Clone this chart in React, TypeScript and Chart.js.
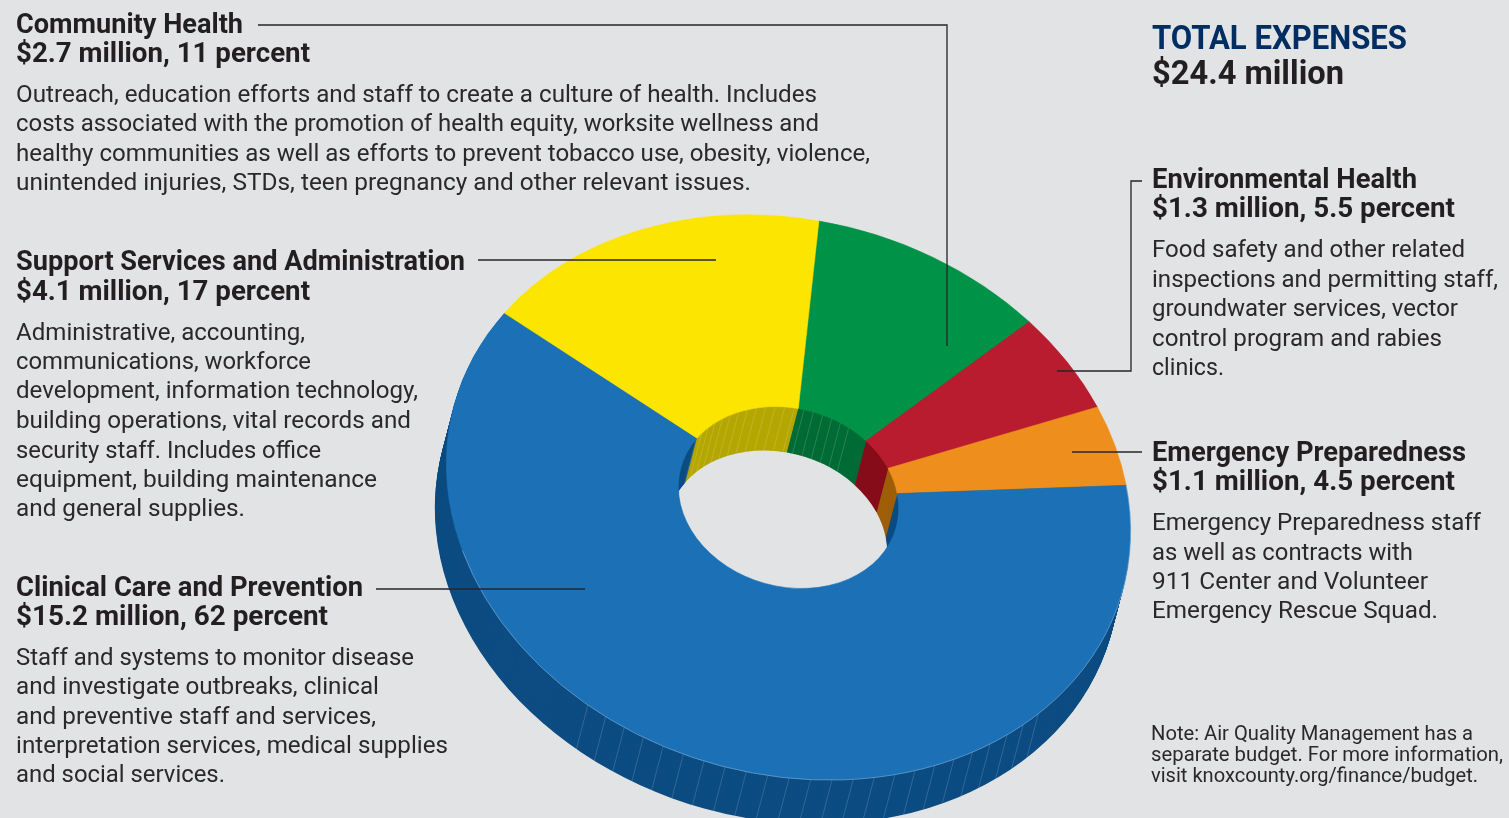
import React, { useEffect, useRef } from "react";
import { Chart, registerables } from "chart.js";

Chart.register(...registerables);

// ---------- data ----------
const categories = ["Community Health", "Environmental Health", "Emergency Preparedness", "Clinical Care and Prevention", "Support Services and Administration"];
const percentValues = [11, 5.5, 4.5, 62, 17];

const communityHead = ["Community Health", "$2.7 million, 11 percent"];
const communityBody = [
  "Outreach, education efforts and staff to create a culture of health. Includes",
  "costs associated with the promotion of health equity, worksite wellness and",
  "healthy communities as well as efforts to prevent tobacco use, obesity, violence,",
  "unintended injuries, STDs, teen pregnancy and other relevant issues.",
];
const supportHead = ["Support Services and Administration", "$4.1 million, 17 percent"];
const supportBody = [
  "Administrative, accounting,",
  "communications, workforce",
  "development, information technology,",
  "building operations, vital records and",
  "security staff. Includes office",
  "equipment, building maintenance",
  "and general supplies.",
];
const clinicalHead = ["Clinical Care and Prevention", "$15.2 million, 62 percent"];
const clinicalBody = [
  "Staff and systems to monitor disease",
  "and investigate outbreaks, clinical",
  "and preventive staff and services,",
  "interpretation services, medical supplies",
  "and social services.",
];
const totalTitle = "TOTAL EXPENSES";
const totalValue = "$24.4 million";
const envHead = ["Environmental Health", "$1.3 million, 5.5 percent"];
const envBody = [
  "Food safety and other related",
  "inspections and permitting staff,",
  "groundwater services, vector",
  "control program and rabies",
  "clinics.",
];
const emergencyHead = ["Emergency Preparedness", "$1.1 million, 4.5 percent"];
const emergencyBody = [
  "Emergency Preparedness staff",
  "as well as contracts with",
  "911 Center and Volunteer",
  "Emergency Rescue Squad.",
];
const noteLines = [
  "Note: Air Quality Management has a",
  "separate budget. For more information,",
  "visit knoxcounty.org/finance/budget.",
];

// ---------- styles ----------
const BG = "#e2e3e5";
const INK = "#231f20";
const NAVY = "#002d62";
const sliceColors = ["#009347", "#b91c2e", "#ee8e1c", "#1c70b5", "#fce500"];
const wallColors = ["#006b35", "#870c1a", "#9e5f08", "#0c4c82", "#b5a600"];

const RADIUS = 342;
// where the disc's east and north unit directions land on the page (tilted view)
const EAST = { x: 340.8, y: 58.4 };
const NORTH = { x: 30.4, y: -276.5 };
const CENTER = { x: 788.5, y: 497.5 };
const SHIFT = { x: -11.5, y: 44 };
const LAYERS = 44;

type Item = { t: string; y: number; end: number; x?: number; kind: "head" | "body" | "note" | "title" | "big" };

function lines(texts: string[], ys: number[], ends: number[], kind: Item["kind"], x: number): Item[] {
  return texts.map((t, i) => ({ t, y: ys[i], end: ends[i], kind, x }));
}

const LX = 16;
const RX = 1152;
const items: Item[] = [
  ...lines(communityHead, [33, 62], [243, 310], "head", LX),
  ...lines(communityBody, [102, 131, 161, 190], [817, 819, 870, 751], "body", LX),
  ...lines(supportHead, [270, 300], [465, 310], "head", LX),
  ...lines(supportBody, [340, 369, 398, 428, 458, 487, 516], [305, 311, 418, 411, 321, 377, 245], "body", LX),
  ...lines(clinicalHead, [596, 625], [363, 328], "head", LX),
  ...lines(clinicalBody, [665, 694, 724, 753, 782], [414, 379, 376, 448, 225], "body", LX),
  ...lines([totalTitle], [49], [1407], "title", RX),
  ...lines([totalValue], [84], [1344], "big", RX),
  ...lines(envHead, [188, 217], [1417, 1455], "head", RX),
  ...lines(envBody, [257, 287, 316, 346, 375], [1465, 1498, 1458, 1442, 1224], "body", RX),
  ...lines(emergencyHead, [461, 490], [1466, 1455], "head", RX),
  ...lines(emergencyBody, [530, 560, 589, 618], [1481, 1413, 1428, 1438], "body", RX),
  ...lines(noteLines, [740, 761, 782], [1473, 1503, 1478], "note", 1151),
];

const fontFor: Record<Item["kind"], { size: number; weight: number; fill: string }> = {
  head: { size: 27, weight: 700, fill: INK },
  body: { size: 24.5, weight: 400, fill: "#2b2829" },
  note: { size: 20, weight: 400, fill: "#2b2829" },
  title: { size: 33, weight: 700, fill: NAVY },
  big: { size: 33, weight: 700, fill: INK },
};

const leaders: number[][][] = [
  [[258, 25], [947, 25], [947, 346]],
  [[478, 260], [716, 260]],
  [[376, 589], [585, 589]],
  [[1142, 181], [1131, 181], [1131, 371], [1057, 371]],
  [[1142, 452], [1072, 452]],
];

function applyTilt(ctx: CanvasRenderingContext2D, x0: number, y0: number, R: number, t: number) {
  ctx.translate(CENTER.x + SHIFT.x * t, CENTER.y + SHIFT.y * t);
  ctx.transform(EAST.x / R, EAST.y / R, -NORTH.x / R, -NORTH.y / R, 0, 0);
  ctx.translate(-x0, -y0);
}

const tiltPlugin = {
  id: "tilt",
  beforeDatasetsDraw(chart: any) {
    const arcs = chart.getDatasetMeta(0).data;
    if (!arcs.length) return;
    const { x: x0, y: y0, outerRadius: R, innerRadius: r } = arcs[0];
    const ctx = chart.ctx;
    // extruded side walls, from the bottom of the disc upward
    for (let l = LAYERS; l >= 1; l--) {
      ctx.save();
      applyTilt(ctx, x0, y0, R, l / LAYERS);
      arcs.forEach((arc: any, i: number) => {
        const orig = arc.options;
        const o = Object.create(orig);
        Object.defineProperty(o, "backgroundColor", { value: wallColors[i] });
        Object.defineProperty(o, "borderWidth", { value: 0 });
        arc.options = o;
        arc.draw(ctx);
        arc.options = orig;
      });
      ctx.restore();
    }
    // faint seams on the walls (angles clockwise from north)
    ctx.save();
    ctx.strokeStyle = "rgba(255,255,255,0.22)";
    ctx.lineWidth = 0.7;
    const seam = (ratio: number, from: number, to: number, step: number) => {
      for (let d = from; d <= to; d += step) {
        const a = (d * Math.PI) / 180;
        const px = CENTER.x + ratio * (EAST.x * Math.sin(a) + NORTH.x * Math.cos(a));
        const py = CENTER.y + ratio * (EAST.y * Math.sin(a) + NORTH.y * Math.cos(a));
        ctx.beginPath();
        ctx.moveTo(px, py);
        ctx.lineTo(px + SHIFT.x, py + SHIFT.y);
        ctx.stroke();
      }
    };
    seam(1, 128, 212, 3.6);
    seam(r / R, -62, 32, 5);
    ctx.restore();
    // top surface: the chart's own dataset draw happens under this transform
    ctx.save();
    applyTilt(ctx, x0, y0, R, 0);
  },
  afterDatasetsDraw(chart: any) {
    const arcs = chart.getDatasetMeta(0).data;
    if (!arcs.length) return;
    const ctx = chart.ctx;
    const blue = arcs[3];
    ctx.strokeStyle = "rgba(255,255,255,0.35)";
    ctx.lineWidth = 0.8;
    ctx.beginPath();
    ctx.arc(blue.x, blue.y, blue.outerRadius, blue.startAngle, blue.endAngle - 0.9);
    ctx.stroke();
    ctx.restore();
    // leader lines
    ctx.save();
    ctx.strokeStyle = "#26262a";
    ctx.lineWidth = 1.3;
    leaders.forEach((path) => {
      ctx.beginPath();
      path.forEach(([x, y], i) => (i ? ctx.lineTo(x, y) : ctx.moveTo(x, y)));
      ctx.stroke();
    });
    ctx.restore();
  },
};

export default function App() {
  const ref = useRef<HTMLCanvasElement>(null);
  useEffect(() => {
    document.body.style.margin = "0";
    document.body.style.background = BG;
    document.body.style.overflow = "hidden";
    const chart = new Chart(ref.current as HTMLCanvasElement, {
      type: "doughnut",
      data: {
        labels: categories,
        datasets: [
          {
            data: percentValues,
            backgroundColor: sliceColors,
            borderColor: sliceColors,
            borderWidth: 0.6,
            clip: false,
          } as any,
        ],
      },
      options: {
        responsive: false,
        animation: false,
        radius: RADIUS,
        cutout: "32.2%",
        rotation: 0,
        layout: { padding: 0 },
        plugins: { legend: { display: false }, tooltip: { enabled: false }, title: { display: false } },
      } as any,
      plugins: [tiltPlugin],
    });
    return () => chart.destroy();
  }, []);

  return (
    <div style={{ position: "relative", width: 1509, height: 818, background: BG, overflow: "hidden" }}>
      <canvas ref={ref} width={1509} height={818} style={{ position: "absolute", left: 0, top: 0, width: 1509, height: 818 }} />
      <svg width={1509} height={818} style={{ position: "absolute", left: 0, top: 0 }} fontFamily="Roboto">
        {items.map((it, i) => {
          const f = fontFor[it.kind];
          return (
            <text
              key={i}
              x={it.x}
              y={it.y}
              fontSize={f.size}
              fontWeight={f.weight}
              fill={f.fill}
              textLength={it.end - (it.x as number)}
              lengthAdjust="spacingAndGlyphs"
            >
              {it.t}
            </text>
          );
        })}
      </svg>
    </div>
  );
}
